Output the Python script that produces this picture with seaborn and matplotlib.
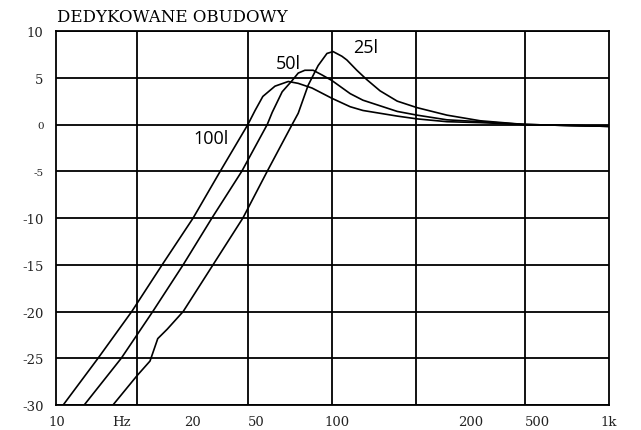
import numpy as np
import pandas as pd
import matplotlib
matplotlib.use('Agg')
import matplotlib.pyplot as plt
import seaborn as sns

# x is a position along the (non-uniform) frequency axis, 0 = left edge, 100 = right edge
x_100l = [1.3, 7.6, 13.7, 19.2, 24.8, 29.7, 34.7, 36.0, 37.4, 39.6, 42.0, 43.8, 46.3, 49.9,
          53.2, 55.5, 61.7, 65.3, 70.7, 76.7, 84.8, 100.0]
db_100l = [-30, -25, -20, -15, -10, -5, 0, 1.5, 3.0, 4.1, 4.6, 4.4, 3.9, 2.8,
           1.9, 1.5, 0.9, 0.6, 0.3, 0.2, 0.0, -0.2]

x_50l = [5.1, 11.8, 17.5, 23.0, 28.2, 33.6, 38.2, 39.1, 40.9, 42.7, 43.8, 45.0, 46.5, 48.1,
         49.9, 53.2, 55.5, 61.7, 65.3, 70.7, 76.7, 84.8, 100.0]
db_50l = [-30, -25, -20, -15, -10, -5, 0, 1.3, 3.5, 4.7, 5.5, 5.8, 5.8, 5.3,
          4.7, 3.3, 2.6, 1.4, 1.0, 0.5, 0.3, 0.0, -0.2]

x_25l = [10.3, 14.6, 17.0, 18.4, 20.1, 23.0, 28.4, 33.8, 38.2, 42.7, 43.8, 45.6, 47.4,
         49.0, 50.1, 51.7, 52.6, 54.4, 56.2, 58.6, 61.7, 65.3, 70.7, 76.7, 84.8, 100.0]
db_25l = [-30, -26.9, -25.3, -22.9, -21.9, -20, -15, -10, -5, 0, 1.2, 4.2, 6.3,
          7.6, 7.8, 7.3, 6.9, 5.8, 4.8, 3.6, 2.5, 1.8, 1.0, 0.4, 0.0, -0.2]

curve_names = ['100l', '50l', '25l']
label_x = [28.0, 42.0, 55.9]
label_db = [-1.4, 6.6, 8.3]

freq_labels = ['10', 'Hz', '20', '50', '100', '200', '500', '1k']
freq_label_pos = [0.2, 11.8, 24.6, 36.2, 50.8, 74.9, 87.0, 100.0]
grid_x = [14.6, 34.7, 49.9, 65.1, 84.8]
db_ticks = [-30, -25, -20, -15, -10, -5, 0, 5, 10]

frames = []
for name, xs, ys in zip(curve_names, [x_100l, x_50l, x_25l], [db_100l, db_50l, db_25l]):
    frames.append(pd.DataFrame({'pos': xs, 'db': ys, 'box': name}))
df = pd.concat(frames, ignore_index=True)

sns.set_style('white')
plt.rcParams['font.family'] = ['DejaVu Serif']

fig = plt.figure(figsize=(6.41, 4.31), dpi=100)
ax = fig.add_axes([56 / 641, 25 / 431, 553 / 641, 374 / 431])

sns.lineplot(data=df, x='pos', y='db', hue='box', palette=['black'] * 3,
             sort=False, estimator=None, linewidth=1.2, legend=False, ax=ax)
for ln in ax.get_lines():
    ln.set_solid_joinstyle('round')

ax.set_xlim(0, 100)
ax.set_ylim(-30, 10)

ax.set_xticks(freq_label_pos)
ax.set_xticklabels(freq_labels)
ax.set_xticks(grid_x, minor=True)
ax.set_yticks(db_ticks)
ax.set_yticklabels([str(t) for t in db_ticks])
ax.tick_params(axis='both', which='both', length=0, labelsize=9.5, colors='#222222')
ax.tick_params(axis='x', pad=7)
ax.tick_params(axis='y', pad=9)
for lab, t in zip(ax.get_yticklabels(), db_ticks):
    if t in (0, -5):
        lab.set_fontsize(7.5)

ax.grid(False)
ax.grid(True, which='minor', axis='x', color='black', linewidth=1.3)
ax.grid(True, which='major', axis='y', color='black', linewidth=1.3)
for s in ax.spines.values():
    s.set_visible(True)
    s.set_color('black')
    s.set_linewidth(1.3)

ax.set_xlabel('')
ax.set_ylabel('')

for name, lx, ly in zip(curve_names, label_x, label_db):
    ax.text(lx, ly, name, ha='center', va='center', fontsize=13,
            family=['Open Sans', 'DejaVu Sans'], color='black')

ax.text(0.002, 1.015, 'DEDYKOWANE OBUDOWY', transform=ax.transAxes,
        ha='left', va='bottom', fontsize=12, color='black')

fig.savefig('out.png', dpi=100)
